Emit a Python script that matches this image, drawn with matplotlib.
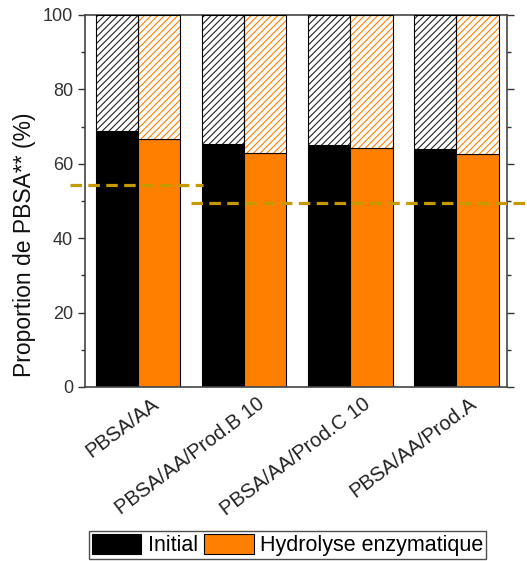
import numpy as np
import matplotlib

matplotlib.use("Agg")
import matplotlib.pyplot as plt  # noqa: E402
import matplotlib.transforms as mtransforms  # noqa: E402
from matplotlib.patches import Patch  # noqa: E402

plt.rcParams["font.family"] = ["Liberation Sans", "DejaVu Sans"]
plt.rcParams["hatch.linewidth"] = 0.8

samples = ["PBSA/AA", "PBSA/AA/Prod.B 10", "PBSA/AA/Prod.C 10", "PBSA/AA/Prod.A"]
initial = [68.8, 65.3, 65.0, 63.9]
hydrolyse = [66.6, 62.8, 64.2, 62.5]
# reference levels (dashed lines): value, x start, x end in category units
ref_levels = [54.4, 49.5]
ref_spans = [(-0.64, 0.61), (0.5, 3.7)]

black = "#000000"
orange = "#FF8000"
gold = "#C49A00"

x = np.arange(len(samples))
w = 0.4

fig = plt.figure(figsize=(5.27, 5.61), dpi=100)
ax = fig.add_axes([0.1613, 0.3102, 0.8008, 0.6631])

init = np.array(initial)
hyd = np.array(hydrolyse)

# solid lower parts
ax.bar(x - w / 2, init, w, color=black, edgecolor=black, linewidth=0.8, zorder=2)
ax.bar(x + w / 2, hyd, w, color=orange, edgecolor=black, linewidth=0.8, zorder=2)

# hatched upper parts (hatch colour follows edgecolor), outline drawn on top
ax.bar(x - w / 2, 100 - init, w, bottom=init, facecolor="white", edgecolor="#222222",
       hatch="/////", linewidth=0, zorder=2)
ax.bar(x + w / 2, 100 - hyd, w, bottom=hyd, facecolor="white", edgecolor=orange,
       hatch="/////", linewidth=0, zorder=2)
ax.bar(x - w / 2, 100 - init, w, bottom=init, fill=False, edgecolor=black, linewidth=0.8, zorder=3)
ax.bar(x + w / 2, 100 - hyd, w, bottom=hyd, fill=False, edgecolor=black, linewidth=0.8, zorder=3)

for level, (x0, x1) in zip(ref_levels, ref_spans):
    ax.plot([x0, x1], [level, level], color=gold, lw=2.3, dashes=(3.6, 2.0),
            clip_on=False, zorder=5)

ax.set_xlim(-0.5, 3.48)
ax.set_ylim(0, 100)
ax.set_yticks([0, 20, 40, 60, 80, 100])
ax.set_yticks([10, 30, 50, 70, 90], minor=True)
ax.tick_params(axis="y", which="both", direction="out", labelsize=13,
               labelcolor="#333333", color="#333333")
ax.tick_params(axis="y", which="major", length=5, width=1)
ax.tick_params(axis="y", which="minor", length=3, width=1)
ax.tick_params(axis="y", which="both", right=True)

ax.set_xticks(x)
ax.set_xticklabels(samples, rotation=37, ha="right", fontsize=14.5, color="#222222")
ax.tick_params(axis="x", length=0, pad=5)
offset = mtransforms.ScaledTranslation(0.24, 0, fig.dpi_scale_trans)
for lab in ax.get_xticklabels():
    lab.set_transform(lab.get_transform() + offset)

for s in ax.spines.values():
    s.set_color("#444444")
    s.set_linewidth(1.2)

ax.set_ylabel("Proportion de PBSA** (%)", fontsize=16.5, color="#111111")
ax.yaxis.set_label_coords(-0.116, 0.382)

handles = [Patch(facecolor=black, edgecolor=black, linewidth=0.8),
           Patch(facecolor=orange, edgecolor=black, linewidth=0.8)]
leg = fig.legend(handles, ["Initial", "Hydrolyse enzymatique"], loc="center",
                 bbox_to_anchor=(0.5455, 0.0285), ncol=2, fontsize=15.5,
                 frameon=True, fancybox=False, handlelength=2.3, handleheight=1.1,
                 handletextpad=0.3, columnspacing=0.3, borderpad=0.12,
                 borderaxespad=0)
leg.get_frame().set_edgecolor("#222222")
leg.get_frame().set_linewidth(1.0)

fig.savefig("out.png", dpi=100)
plt.close(fig)
